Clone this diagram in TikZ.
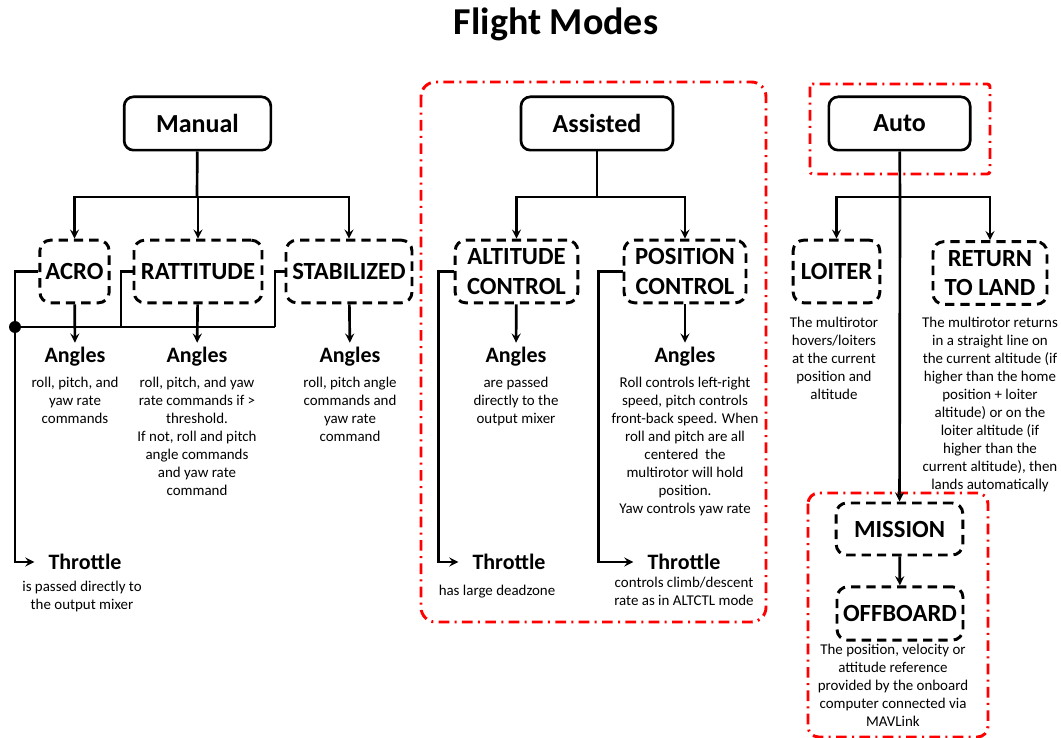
\documentclass[tikz,border=0pt]{standalone}
\usepackage{fontspec}
\setmainfont{Carlito}
\usepackage{tikz}

\begin{document}
\begin{tikzpicture}
  [x=0.75pt,y=-0.75pt,>=stealth,
   mode/.style={draw, line width=2pt, rounded corners=7pt, minimum height=40pt, font=\bfseries\fontsize{19.5}{21}\selectfont},
   sub/.style={draw, line width=2.2pt, dash pattern=on 7pt off 4.5pt, rounded corners=8pt, minimum height=47pt, align=center, font=\bfseries\fontsize{18.5}{22}\selectfont},
   head/.style={font=\bfseries\fontsize{16.5}{18}\selectfont},
   desc/.style={anchor=north, align=center, inner sep=0pt, font=\fontsize{11.2}{13.5}\selectfont},
   link/.style={line width=2pt},
   dot/.style={circle, fill, inner sep=0pt, minimum size=9pt},
   group/.style={red, line width=2.2pt, dash pattern=on 8pt off 4pt on 1.5pt off 4pt}]
  \useasboundingbox (0,0) rectangle (1061,738);

  \node[font=\bfseries\fontsize{28.5}{30}\selectfont] (title) at (556,24) {Flight Modes};

  % groups
  \draw[group, rounded corners=11pt] (421,82) rectangle (766,622);
  \draw[group, rounded corners=2pt] (810,84) rectangle (990,174);
  \draw[group, rounded corners=8pt] (808,493) rectangle (988,737);

  % modes
  \node[mode, minimum width=110pt] (man) at (197.5,123.5) {Manual};
  \node[mode, minimum width=114pt] (asst) at (597,123.5) {Assisted};
  \node[mode, minimum width=106pt] (auto) at (899.5,123.5) {Auto};

  \node[sub, minimum width=52pt] (acro) at (74.5,271.5) {ACRO};
  \node[sub, minimum width=96pt] (ratt) at (198,271.5) {RATTITUDE};
  \node[sub, minimum width=94.5pt] (stab) at (349,271.5) {STABILIZED};
  \node[sub, minimum width=92pt] (alt) at (516.5,271.5) {ALTITUDE\\CONTROL};
  \node[sub, minimum width=91.5pt] (pos) at (685,271.5) {POSITION\\CONTROL};
  \node[sub, minimum width=65pt] (loit) at (836.5,271.5) {LOITER};
  \node[sub, minimum width=85.5pt] (rtl) at (990,273) {RETURN\\TO LAND};
  \node[sub, minimum width=95pt, minimum height=39pt] (miss) at (899.5,529) {MISSION};
  \node[sub, minimum width=94.5pt, minimum height=40pt] (offb) at (900,613.5) {OFFBOARD};

  % outputs
  \node[head] (ang1) at (75,357) {Angles};
  \node[head] (ang2) at (197,357) {Angles};
  \node[head] (ang3) at (350,357) {Angles};
  \node[head] (ang4) at (516,357) {Angles};
  \node[head] (ang5) at (685,357) {Angles};
  \node[head] (thr1) at (85,562) {Throttle};
  \node[head] (thr2) at (509,562) {Throttle};
  \node[head] (thr3) at (684,562) {Throttle};

  \node[desc] (d1) at (75,377) {roll, pitch, and\\yaw rate\\commands};
  \node[desc] (d2) at (197,377) {roll, pitch, and yaw\\rate commands if >\\threshold.\\If not, roll and pitch\\angle commands\\and yaw rate\\command};
  \node[desc] (d3) at (350,377) {roll, pitch angle\\commands and\\yaw rate\\command};
  \node[desc] (d4) at (82,581) {is passed directly to\\the output mixer};
  \node[desc] (d5) at (516,377) {are passed\\directly to the\\output mixer};
  \node[desc] (d6) at (497,585) {has large deadzone};
  \node[desc] (d7) at (685,377) {Roll controls left-right\\speed, pitch controls\\front-back speed. When\\roll and pitch are all\\centered~ the\\multirotor will hold\\position.\\Yaw controls yaw rate};
  \node[desc] (d8) at (684,577) {controls climb/descent\\rate as in ALTCTL mode};
  \node[desc] (d9) at (834,317) {The multirotor\\hovers/loiters\\at the current\\position and\\altitude};
  \node[desc] (d10) at (990,317) {The multirotor returns\\in a straight line on\\the current altitude (if\\higher than the home\\position + loiter\\altitude) or on the\\loiter altitude (if\\higher than the\\current altitude), then\\lands automatically};
  \node[desc] (d11) at (893,644) {The position, velocity or\\attitude reference\\provided by the onboard\\computer connected via\\MAVLink};

  % junctions
  \coordinate (mj) at (197,197);
  \coordinate (sj) at (597,197);
  \coordinate (aj) at (900,197);
  \node[dot] (mdot) at (15,327) {};
  \coordinate (m2) at (121,327);
  \coordinate (m3) at (275,327);

  \draw[link] (man) -- (mj);
  \draw[link] (asst) -- (sj);
  \draw[link] (auto) -- (aj);
  \foreach \from/\to in {mj/acro,mj/ratt,mj/stab,sj/alt,sj/pos,aj/loit,aj/rtl}
    \draw[link,->] (\from) -| (\to);
  \foreach \from/\to in {acro/ang1,ratt/ang2,stab/ang3,alt/ang4,pos/ang5,aj/miss,miss/offb}
    \draw[link,->] (\from) -- (\to);

  % throttle paths
  \draw[link] (acro.west) -| (mdot);
  \draw[link] (mdot) -- (m3);
  \draw[link] (m2) |- (ratt);
  \draw[link] (m3) |- (stab);
  \draw[link,->,shorten >=7pt] (mdot) |- (thr1);
  \draw[link,->,shorten >=7pt] (alt.west) -- ++(-15,0) |- (thr2);
  \draw[link,->,shorten >=7pt] (pos.west) -- ++(-24,0) |- (thr3);
\end{tikzpicture}
\end{document}
